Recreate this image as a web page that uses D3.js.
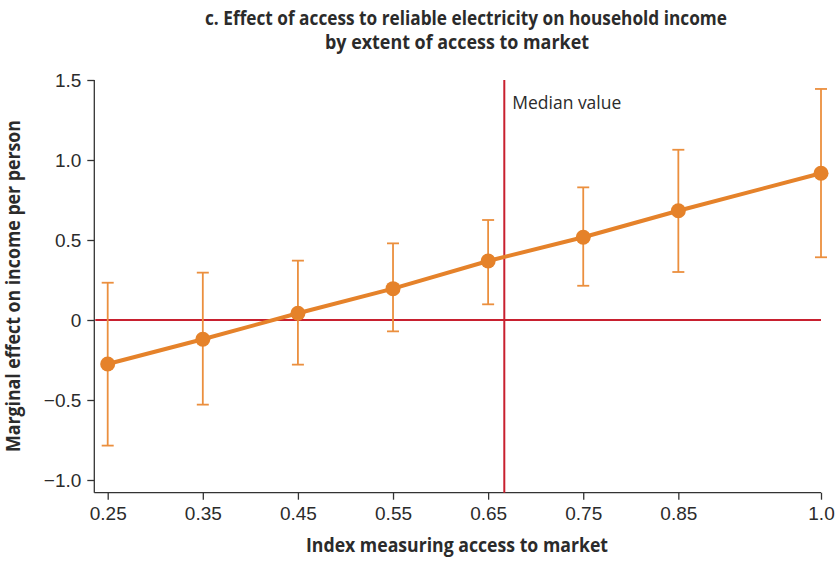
<!DOCTYPE html>
<html><head><meta charset="utf-8">
<script src="https://cdn.jsdelivr.net/npm/d3@7"></script>
<style>
body{margin:0;background:#fff;}
svg{font-family:"Open Sans","Liberation Sans",sans-serif;}
</style></head><body>
<svg id="chart" width="839" height="562"></svg>
<script>
const xValues = [0.25, 0.35, 0.45, 0.55, 0.65, 0.75, 0.85, 1.0];
const effect = [-0.275, -0.12, 0.042, 0.196, 0.369, 0.517, 0.683, 0.917];
const upper = [0.233, 0.296, 0.371, 0.479, 0.625, 0.829, 1.064, 1.444];
const lower = [-0.785, -0.529, -0.279, -0.071, 0.098, 0.214, 0.30, 0.392];
const xTicks = [0.25, 0.35, 0.45, 0.55, 0.65, 0.75, 0.85, 1.0];
const yTicks = [-1.0, -0.5, 0, 0.5, 1.0, 1.5];
const medianValue = 0.667;
const titleLines = ["c. Effect of access to reliable electricity on household income", "by extent of access to market"];

const svg = d3.select("#chart");
const x = d3.scaleLinear().domain([0.25, 1.0]).range([107.7, 821]);
const y = d3.scaleLinear().domain([-1, 1.5]).range([480, 80]);
const axisLeftX = 94.3, axisBottomY = 492.7;
const textCol = "#2b2b2b", red = "#c8202f", orange = "#e5822a", orangeLight = "#eb8f3e";

// title
const titleLayout = [{cx:466, y:25, w:522}, {cx:457, y:49, w:264}];
svg.append("g").selectAll("text").data(titleLines).join("text")
  .attr("x", (d,i)=>titleLayout[i].cx).attr("y", (d,i)=>titleLayout[i].y)
  .attr("text-anchor","middle").attr("font-weight","bold").attr("font-size",19)
  .attr("textLength",(d,i)=>titleLayout[i].w).attr("lengthAdjust","spacingAndGlyphs")
  .attr("fill", textCol).text(d=>d);

// y axis
const yAxis = d3.axisLeft(y).tickValues(yTicks).tickSize(7).tickSizeOuter(0)
  .tickFormat(d => d === 0 ? "0" : (d < 0 ? "\u2212" + d3.format(".1f")(-d) : d3.format(".1f")(d)));
const gy = svg.append("g").attr("transform", `translate(${axisLeftX},0)`).call(yAxis);
gy.select(".domain").remove();
gy.append("line").attr("x1",0).attr("x2",0).attr("y1",y(1.5)).attr("y2",axisBottomY).attr("stroke","#333").attr("stroke-width",1.3);
gy.selectAll(".tick line").attr("stroke","#333").attr("stroke-width",1.3);
gy.selectAll(".tick text").attr("font-size",19).attr("fill",textCol).attr("font-family","inherit").attr("x",-13);

// x axis
const xAxis = d3.axisBottom(x).tickValues(xTicks).tickSize(7).tickSizeOuter(0)
  .tickFormat(d => d3.format(d === 1 ? ".1f" : ".2f")(d));
const gx = svg.append("g").attr("transform", `translate(0,${axisBottomY})`).call(xAxis);
gx.select(".domain").remove();
gx.append("line").attr("x1",axisLeftX).attr("x2",x(1.0)).attr("y1",0).attr("y2",0).attr("stroke","#333").attr("stroke-width",1.3);
gx.selectAll(".tick line").attr("stroke","#333").attr("stroke-width",1.3);
gx.selectAll(".tick text").attr("font-size",19).attr("fill",textCol).attr("font-family","inherit").attr("y",14);

// axis titles
svg.append("text").attr("x", 457).attr("y", 552).attr("text-anchor","middle")
  .attr("font-weight","bold").attr("font-size",19).attr("fill",textCol)
  .attr("textLength",302).attr("lengthAdjust","spacingAndGlyphs")
  .text("Index measuring access to market");
svg.append("text").attr("transform","translate(20,286) rotate(-90)").attr("text-anchor","middle")
  .attr("font-weight","bold").attr("font-size",19).attr("fill",textCol)
  .attr("textLength",332).attr("lengthAdjust","spacingAndGlyphs")
  .text("Marginal effect on income per person");

// reference lines
svg.append("line").attr("x1",axisLeftX+1).attr("x2",x(1.0)).attr("y1",y(0)).attr("y2",y(0))
  .attr("stroke",red).attr("stroke-width",2);
svg.append("line").attr("x1",x(medianValue)).attr("x2",x(medianValue)).attr("y1",y(1.5)).attr("y2",axisBottomY)
  .attr("stroke",red).attr("stroke-width",2);
svg.append("text").attr("x", x(medianValue)+8).attr("y", 109).attr("font-size",19).attr("fill",textCol)
  .attr("textLength",109).attr("lengthAdjust","spacingAndGlyphs").text("Median value");

// data
const data = xValues.map((v,i)=>({x:v, m:effect[i], lo:lower[i], hi:upper[i]}));
const eb = svg.append("g").attr("stroke",orangeLight).attr("stroke-width",1.8).attr("fill","none");
eb.selectAll("line.v").data(data).join("line").attr("class","v")
  .attr("x1",d=>x(d.x)).attr("x2",d=>x(d.x)).attr("y1",d=>y(d.hi)).attr("y2",d=>y(d.lo));
eb.selectAll("line.t").data(data).join("line").attr("class","t")
  .attr("x1",d=>x(d.x)-6).attr("x2",d=>x(d.x)+6).attr("y1",d=>y(d.hi)).attr("y2",d=>y(d.hi));
eb.selectAll("line.b").data(data).join("line").attr("class","b")
  .attr("x1",d=>x(d.x)-6).attr("x2",d=>x(d.x)+6).attr("y1",d=>y(d.lo)).attr("y2",d=>y(d.lo));

svg.append("path").datum(data)
  .attr("d", d3.line().x(d=>x(d.x)).y(d=>y(d.m)))
  .attr("fill","none").attr("stroke",orange).attr("stroke-width",4);
svg.append("g").selectAll("circle").data(data).join("circle")
  .attr("cx",d=>x(d.x)).attr("cy",d=>y(d.m)).attr("r",7.5).attr("fill",orange);
</script></body></html>
